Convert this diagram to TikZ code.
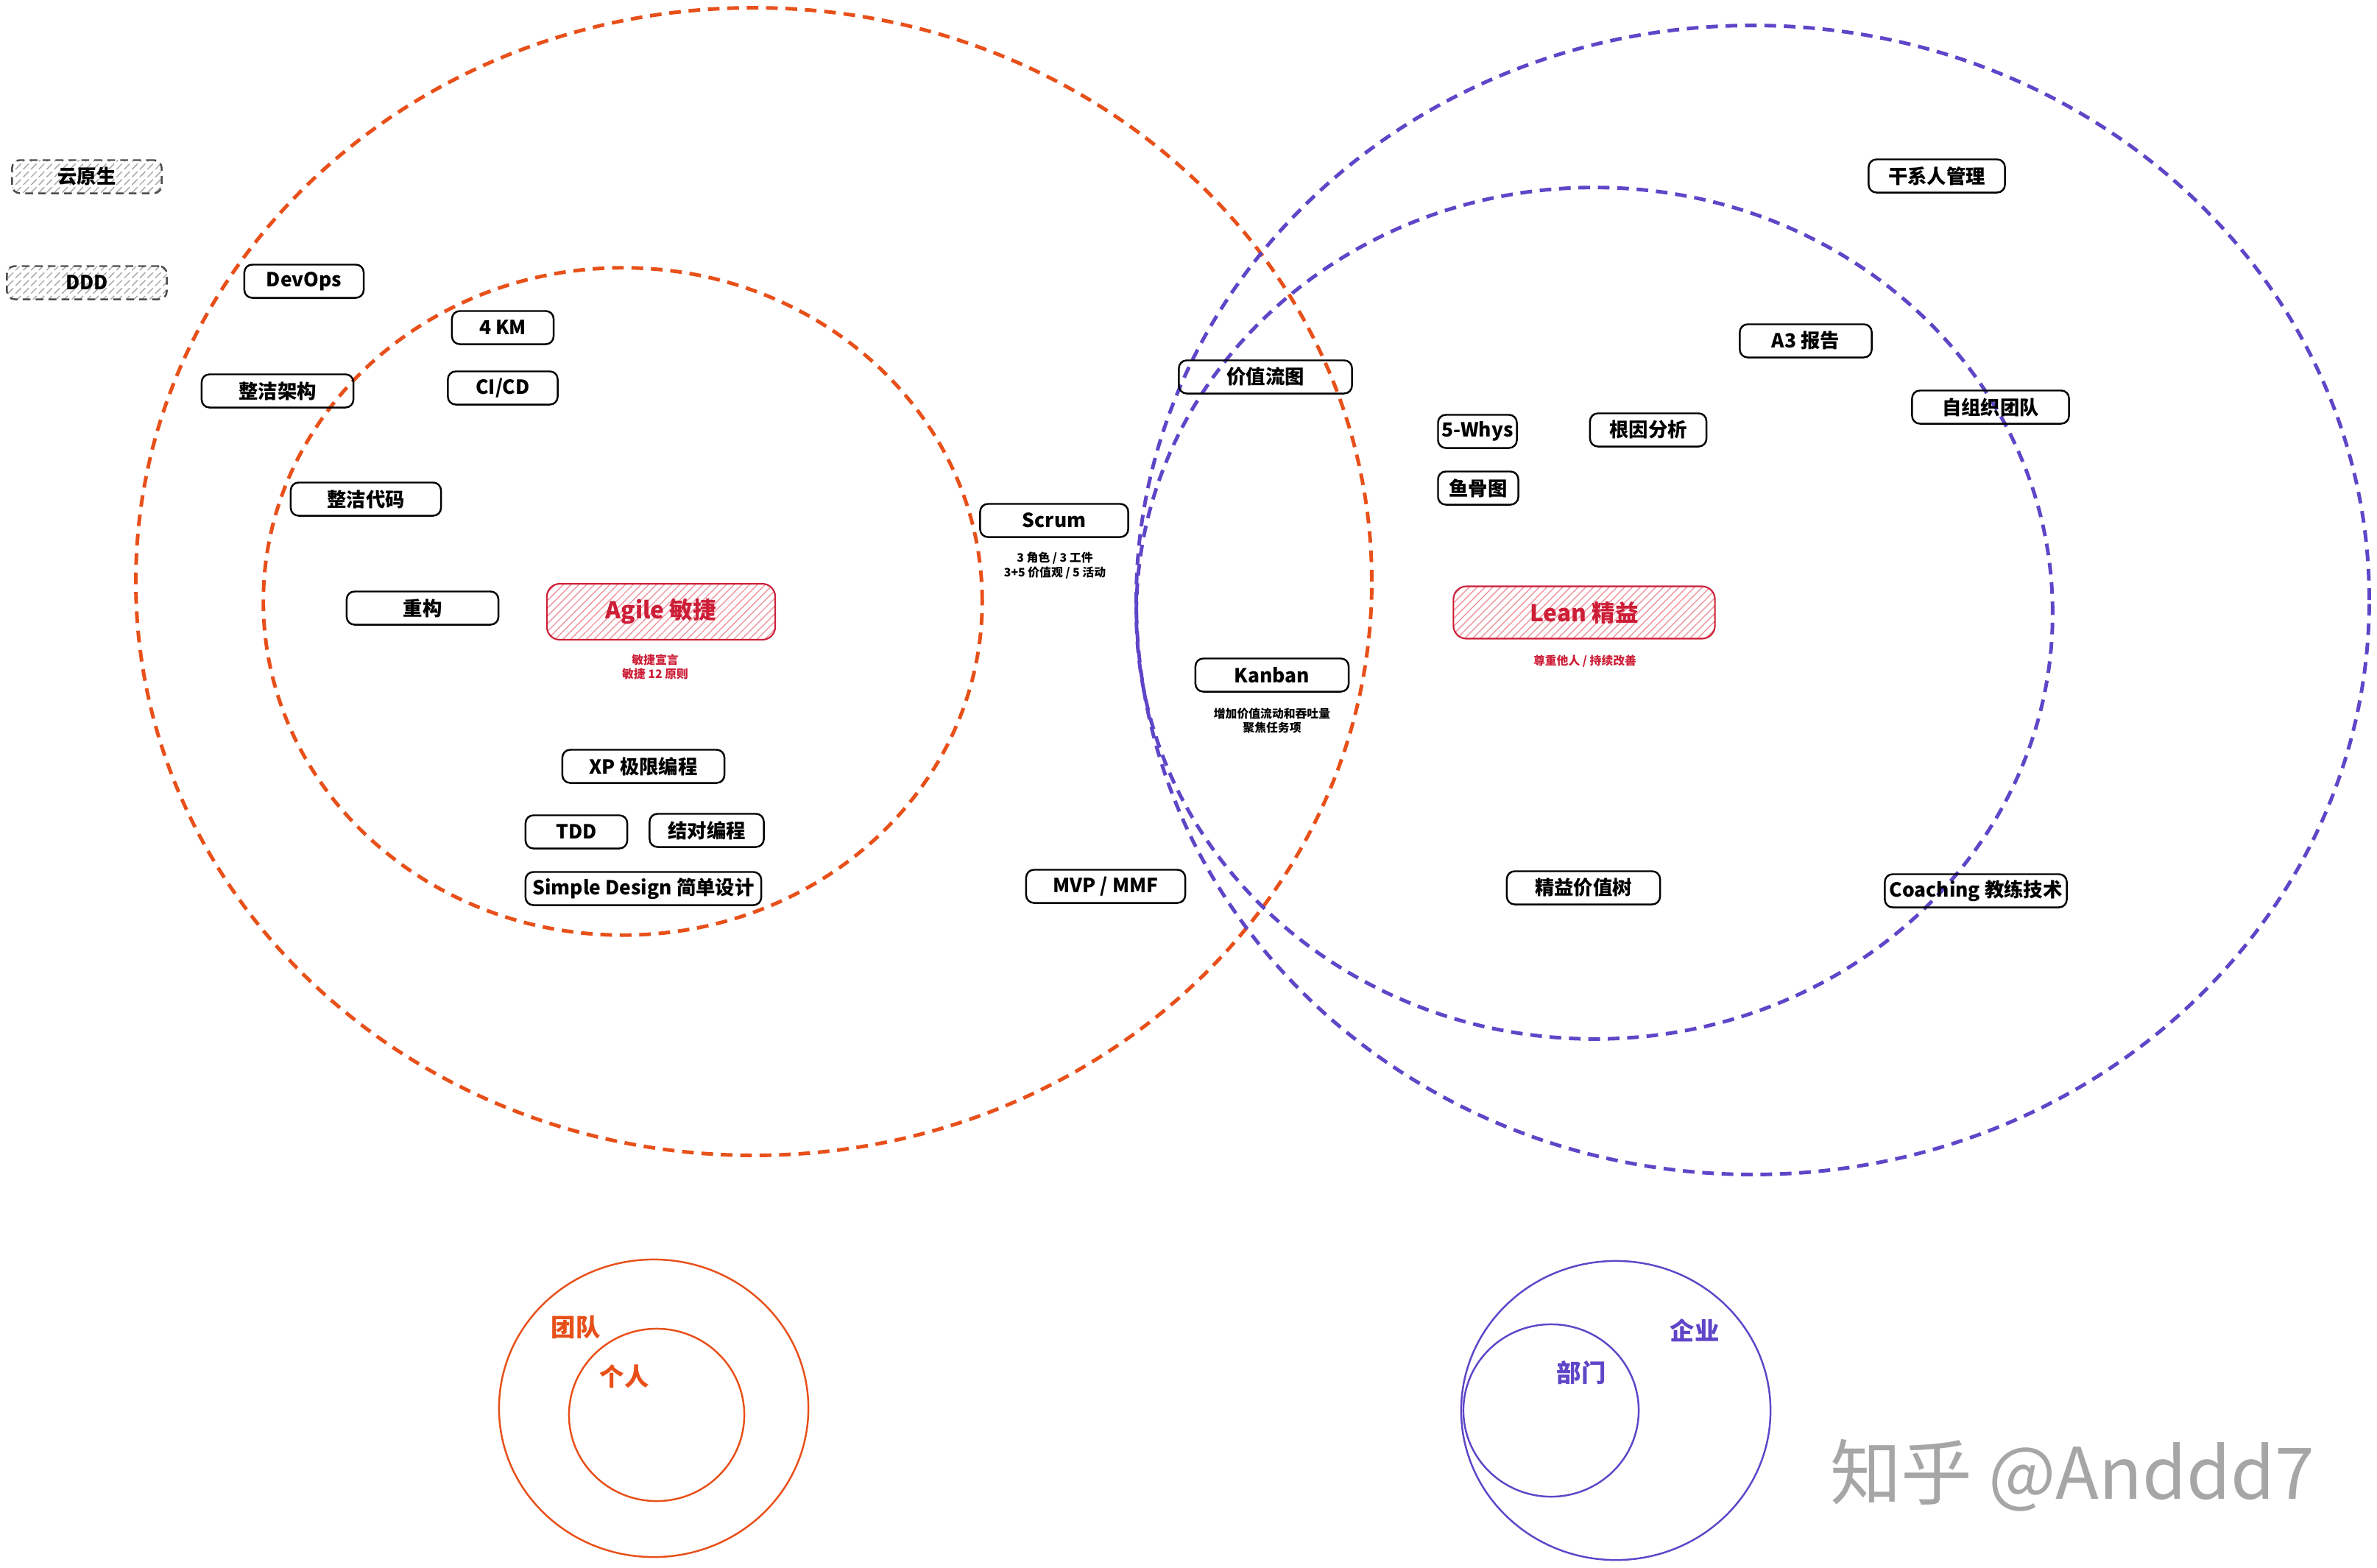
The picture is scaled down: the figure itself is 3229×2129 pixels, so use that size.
\documentclass[tikz,border=0pt]{standalone}
\usepackage{fontspec}
\setmainfont{Noto Sans CJK SC}
\usetikzlibrary{patterns}

\definecolor{teamorange}{RGB}{232,80,26}
\definecolor{orgviolet}{RGB}{95,70,200}
\definecolor{leanred}{RGB}{205,30,55}
\definecolor{hatchred}{RGB}{240,150,160}

\tikzset{
  tag/.style={draw, rounded corners=3pt, line width=0.7pt, inner sep=0pt,
    minimum height=0.45cm, font=\bfseries\fontsize{7.5}{9}\selectfont},
  ghosttag/.style={tag, densely dashed, draw=black!70, pattern=north east lines,
    pattern color=black!35},
  hottag/.style={draw=leanred, rounded corners=5pt, line width=0.6pt, inner sep=0pt,
    pattern=north east lines, pattern color=hatchred, text=leanred,
    font=\bfseries\fontsize{9}{10}\selectfont},
  note/.style={align=center, font=\bfseries\fontsize{4.5}{5.6}\selectfont},
  bigring/.style={dash pattern=on 4.5pt off 3pt, line width=1.4pt},
  smallring/.style={line width=0.7pt},
}

\begin{document}
\begin{tikzpicture}[x=0.01cm, y=-0.01cm]
   \useasboundingbox (0,0) rectangle (3229,2129);

   % Draw the scope rings
   \coordinate (team) at (1024,790);
   \coordinate (person) at (846,817);
   \coordinate (company) at (2381,815);
   \coordinate (dept) at (2166,833);
   \draw[bigring, teamorange] (team) ellipse (8.39cm and 7.79cm);
   \draw[bigring, teamorange] (person) ellipse (4.88cm and 4.53cm);
   \draw[bigring, orgviolet] (company) ellipse (8.37cm and 7.80cm);
   \draw[bigring, orgviolet] (dept) ellipse (6.22cm and 5.78cm);

   % Out of scope
   \node[ghosttag, minimum width=2.03cm] (cloud) at (118,240) {云原生};
   \node[ghosttag, minimum width=2.17cm] (ddd) at (118,384) {DDD};

   % Team practices
   \node[tag, minimum width=1.62cm] (devops) at (413,382) {DevOps};
   \node[tag, minimum width=2.06cm] (cleanarch) at (377,531) {整洁架构};
   \node[tag, minimum width=1.38cm] (km) at (683,445) {4 KM};
   \node[tag, minimum width=1.49cm] (cicd) at (683,527) {CI/CD};
   \node[tag, minimum width=2.04cm] (cleancode) at (497,678) {整洁代码};
   \node[tag, minimum width=2.06cm] (refactor) at (574,826) {重构};
   \node[tag, minimum width=2.20cm] (xp) at (874,1041) {XP 极限编程};
   \node[tag, minimum width=1.38cm] (tdd) at (783,1130) {TDD};
   \node[tag, minimum width=1.55cm] (pair) at (960,1128) {结对编程};
   \node[tag, minimum width=3.20cm] (simple) at (874,1207) {Simple Design 简单设计};

   % Agile
   \node[hottag, minimum width=3.10cm, minimum height=0.76cm] (agile) at (898,831) {Agile 敏捷};
   \node[note, text=leanred] (agilenote) at (890,906) {敏捷宣言\\敏捷 12 原则};

   % Between the two
   \node[tag, minimum width=2.01cm] (scrum) at (1432,707) {Scrum};
   \node[note] (scrumnote) at (1433,768) {3 角色 / 3 工件\\3+5 价值观 / 5 活动};
   \node[tag, minimum width=2.16cm] (mvp) at (1502,1204) {MVP / MMF};
   \node[tag, minimum width=2.35cm] (vsm) at (1719,512) {价值流图};
   \node[tag, minimum width=2.08cm] (kanban) at (1728,917) {Kanban};
   \node[note] (kanbannote) at (1728,979) {增加价值流动和吞吐量\\聚焦任务项};

   % Organisation practices
   \node[tag, minimum width=1.07cm] (whys) at (2007,586) {5-Whys};
   \node[tag, minimum width=1.09cm] (fishbone) at (2008,663) {鱼骨图};
   \node[tag, minimum width=1.58cm] (rootcause) at (2239,584) {根因分析};
   \node[tag, minimum width=1.79cm] (athree) at (2453,463) {A3 报告};
   \node[tag, minimum width=1.85cm] (stake) at (2631,239) {干系人管理};
   \node[tag, minimum width=2.13cm] (selforg) at (2704,553) {自组织团队};
   \node[tag, minimum width=2.08cm] (valuetree) at (2151,1206) {精益价值树};
   \node[tag, minimum width=2.47cm] (coach) at (2684,1210) {Coaching 教练技术};

   % Lean
   \node[hottag, minimum width=3.55cm, minimum height=0.71cm] (lean) at (2152,832) {Lean 精益};
   \node[note, text=leanred] (leannote) at (2153,898) {尊重他人 / 持续改善};

   % Legend circles
   \draw[smallring, teamorange] (888,1913) ellipse (2.10cm and 2.02cm);
   \draw[smallring, teamorange] (892,1922) ellipse (1.19cm and 1.17cm);
   \node[teamorange, font=\bfseries\fontsize{9.5}{10}\selectfont] (teamlabel) at (782,1803) {团队};
   \node[teamorange, font=\bfseries\fontsize{9.5}{10}\selectfont] (personlabel) at (848,1870) {个人};
   \draw[smallring, orgviolet] (2195,1916) ellipse (2.10cm and 2.03cm);
   \draw[smallring, orgviolet] (2107,1916) ellipse (1.19cm and 1.17cm);
   \node[orgviolet, font=\bfseries\fontsize{9.5}{10}\selectfont] (companylabel) at (2302,1807) {企业};
   \node[orgviolet, font=\bfseries\fontsize{9.5}{10}\selectfont] (deptlabel) at (2148,1865) {部门};

   % Watermark
   \node[black!35, font=\fontsize{27.5}{28}\selectfont] (mark) at (2815,2004) {知乎 @Anddd7};

\end{tikzpicture}
\end{document}
